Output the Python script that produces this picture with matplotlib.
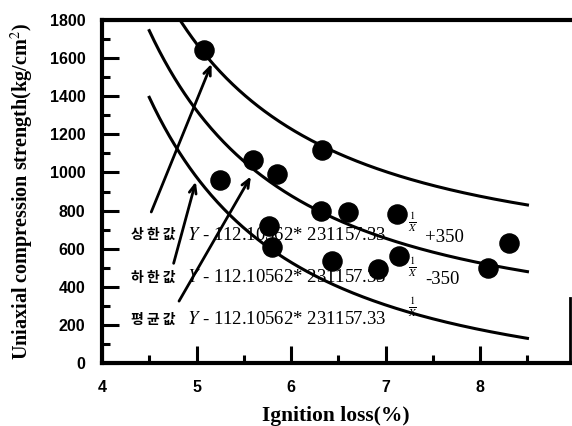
import matplotlib

matplotlib.use("Agg")
import matplotlib.pyplot as plt
import numpy as np

ignition_loss = [5.08, 5.25, 5.60, 5.85, 6.33, 5.77, 5.80, 6.32, 6.60, 7.12, 6.43, 6.92, 7.14, 8.08, 8.31]
strength = [1642, 961, 1065, 992, 1117, 717, 608, 800, 790, 784, 535, 494, 561, 499, 629]

# fitted curve coefficients printed on the chart
fit_a = 112.10562
fit_b = 231157.33
band = 350
curve_range = (4.5, 8.5)

curve_names = ["상 한 값", "하 한 값", "평 균 값"]
curve_shift = [band, -band, 0]
shift_text = ["+350", "-350", ""]

# arrows from each label to its curve (data coords)
arrow_tails = [(4.51, 779), (4.75, 509), (4.80, 312)]
arrow_heads = [(5.17, 1584), (5.00, 966), (5.59, 992)]

x_major = [4, 5, 6, 7, 8]
y_major = list(range(0, 1801, 200))

W, H = 572, 426


def px(x, y):
    return x / W, 1 - y / H


def fit(x, shift):
    return fit_a * fit_b ** (1.0 / x) + shift


def main():
    plt.rcParams["mathtext.fontset"] = "stix"
    fig = plt.figure(figsize=(W / 100, H / 100), dpi=100)
    ax = fig.add_axes([102 / W, (H - 363) / H, (570 - 102) / W, (363 - 20) / H])

    xs = np.linspace(*curve_range, 300)
    for shift in curve_shift:
        ax.plot(xs, fit(xs, shift), color="black", lw=2.2, clip_on=True)

    ax.scatter(ignition_loss, strength, s=190, color="black", zorder=3)

    for tail, head in zip(arrow_tails, arrow_heads):
        ax.annotate(
            "",
            xy=head,
            xytext=tail,
            arrowprops=dict(arrowstyle="->,head_length=0.6,head_width=0.25", lw=2, color="black"),
        )

    rows = [235, 278, 320]
    fracs = [222, 267, 307]
    for name, extra, y, fy in zip(curve_names, shift_text, rows, fracs):
        fig.text(*px(131, y), name, family="Noto Sans CJK KR", weight="black",
                 fontsize=10, va="center", ha="left")
        fig.text(*px(187, y), r"$Y$ - 112.10562* 231157.33", family="Liberation Serif",
                 fontsize=13.5, va="center", ha="left")
        fig.text(*px(413, fy), r"$\frac{1}{X}$", fontsize=11, va="center", ha="center")
        if extra:
            fig.text(*px(425, y + 2), extra, family="Liberation Serif",
                     fontsize=13.5, va="center", ha="left")

    ax.set_xlim(4, 8.95)
    ax.set_ylim(0, 1800)
    ax.set_xticks(x_major)
    ax.set_xticks(np.arange(4.5, 8.6, 1.0), minor=True)
    ax.set_yticks(y_major)
    ax.set_yticks(range(100, 1800, 200), minor=True)
    ax.tick_params(which="both", direction="in", width=2.2, labelsize=11.5, right=False, top=False)
    ax.tick_params(which="major", length=12, pad=12)
    ax.tick_params(which="minor", length=6)
    for lab in ax.get_xticklabels() + ax.get_yticklabels():
        lab.set_family("Liberation Sans")
        lab.set_weight("semibold")

    for side in ["left", "bottom", "top"]:
        ax.spines[side].set_linewidth(3)
    ax.spines["right"].set_linewidth(2)
    ax.spines["right"].set_bounds(0, 340)

    ax.set_xlabel("Ignition loss(%)", family="Liberation Serif", weight="bold", fontsize=15.5)
    ax.set_ylabel("Uniaxial compression strength(kg/cm$^2$)", family="Liberation Serif",
                  weight="bold", fontsize=14.5)
    ax.xaxis.set_label_coords(0.5, -(406 - 363) / 343)
    ax.yaxis.set_label_coords(-(102 - 36) / 468, 0.5)

    fig.savefig("out.png", dpi=100)


if __name__ == "__main__":
    main()
